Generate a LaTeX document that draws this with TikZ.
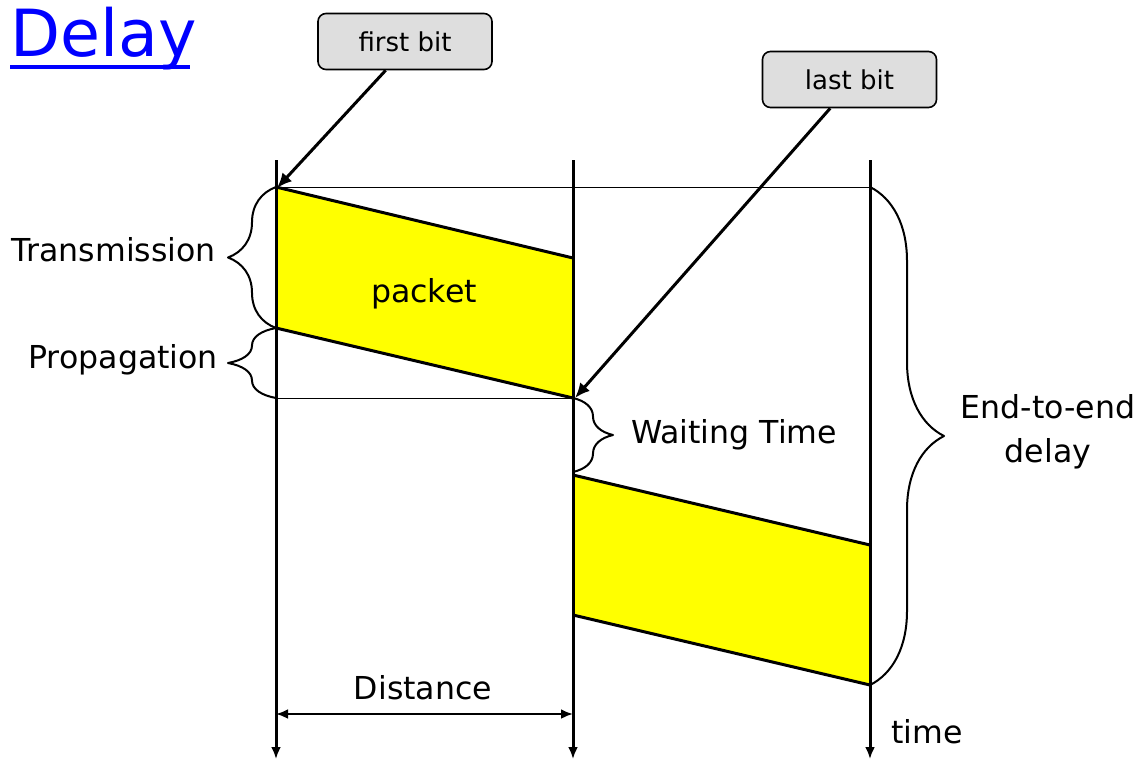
\documentclass[tikz,border=0pt]{standalone}
\usepackage{fontspec}
\setmainfont{DejaVu Sans}
\usetikzlibrary{arrows.meta, positioning, decorations.pathreplacing, calc}
\definecolor{pktyellow}{RGB}{255,255,0}

\begin{document}
\begin{tikzpicture}[x=0.5pt, y=-0.5pt, line join=round,
        timeline/.style={line width=1.5pt, -{Latex[length=6pt,width=5pt]}},
        thinline/.style={line width=0.5pt},
        pktedge/.style={line width=1.5pt},
        bracket/.style={decorate, decoration={brace, amplitude=#1}, line width=1pt},
        callout/.style={draw, line width=0.8pt, rounded corners=4pt, fill=black!13,
            minimum width=87pt, minimum height=28pt, font=\fontsize{13}{15}\selectfont},
        lbl/.style={font=\fontsize{15.8}{22}\selectfont},
        pointer/.style={line width=1.5pt, -{Latex[length=7.5pt,width=6.5pt]}}]
        \useasboundingbox (0,0) rectangle (1145,760);
        % title
        \node[anchor=base west, inner sep=0pt, text=blue, font=\fontsize{32.5}{36}\selectfont] (title) at (10,56) {Delay};
        \draw[blue, line width=2pt] (10,67) -- (190,67);
        % packet corners
        \coordinate (s_top) at (276,187);
        \coordinate (s_bot) at (276,328);
        \coordinate (r_top) at (573,258);
        \coordinate (r_bot) at (573,398);
        \coordinate (w_end) at (573,472);
        \coordinate (f_top) at (573,475);
        \coordinate (f_bot) at (573,615);
        \coordinate (d_top) at (870,545);
        \coordinate (d_bot) at (870,685);
        % packets
        \fill[pktyellow] (s_top) -- (r_top) -- (r_bot) -- (s_bot) -- cycle;
        \fill[pktyellow] (f_top) -- (d_top) -- (d_bot) -- (f_bot) -- cycle;
        \draw[pktedge] (s_top) -- (r_top) (s_bot) -- (r_bot);
        \draw[pktedge] (f_top) -- (d_top) (f_bot) -- (d_bot);
        \draw[thinline] (s_top) -- (870,187);
        \draw[thinline] (276,398) -- (r_bot);
        % time lines
        \foreach \x/\name in {276/src, 573/rtr, 870/dst}
            \draw[timeline] (\x,160) -- (\x,759) coordinate (\name);
        % braces
        \draw[bracket=24pt] (s_bot) -- (s_top);
        \draw[bracket=24pt] (276,398) -- (s_bot);
        \draw[bracket=20pt] (r_bot) -- (w_end);
        \draw[bracket=37pt] (870,187) -- (d_bot);
        % labels
        \node[lbl, anchor=east] (trans) at (223,250) {Transmission};
        \node[lbl, anchor=east] (prop) at (225,360) {Propagation};
        \node[lbl] (pkt) at (424,294) {packet};
        \node[lbl, anchor=west] (wait) at (624,435) {Waiting Time};
        \node[lbl, align=center] (e2e) at (1048,432) {End-to-end\\delay};
        \node[lbl] (dist) at (423,688) {Distance};
        \node[lbl, anchor=west] (time) at (884,732) {time};
        \draw[line width=1.3pt, {Latex[length=6pt,width=5pt]}-{Latex[length=6pt,width=5pt]}] (276,714) -- (573,714);
        % callouts
        \node[callout] (first) at (405,41.5) {first bit};
        \node[callout] (last) at (849.5,79.5) {last bit};
        \path[pointer]
            ($(first.south west)!0.39!(first.south east)$) edge (277,188)
            ($(last.south west)!0.39!(last.south east)$) edge (575,398);
\end{tikzpicture}
\end{document}
